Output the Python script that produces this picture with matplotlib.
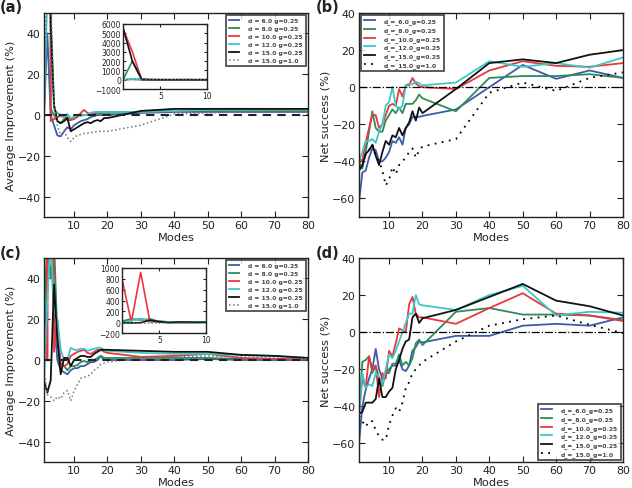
import matplotlib
matplotlib.use("Agg")
import matplotlib.pyplot as plt

# x positions (modes)
modes = list(range(1, 21)) + [30, 40, 50, 60, 70, 80]

labels_a = ["d = 6.0 g=0.25", "d = 8.0 g=0.25", "d = 10.0 g=0.25",
            "d = 12.0 g=0.25", "d = 15.0 g=0.25", "d = 15.0 g=1.0"]
labels_b = ["d_=_6.0_g=0.25", "d_=_8.0_g=0.25", "d_=_10.0_g=0.25",
            "d_=_12.0_g=0.25", "d_=_15.0_g=0.25", "d_=_15.0_g=1.0"]

colors = ["#3D5BA9", "#2E8B57", "#E8383D", "#3CC8C8", "#111111", "#777777"]

# (a) average improvement, first set
a_d6 = [0, 40, 0, -5, -10, -10.5, -8, -6, -7, -5, -4, -3, -2.5, -2, -1, -0.5, 0, 0, 0, 0, 1, 1.5, 1.5, 1.5, 1.5, 1.5]
a_d8 = [0, 2000, 3, 0, -3, -4, -2, -1, -2, -1, -0.5, 0, 0, 0, 0.5, 0.5, 1, 1, 1, 1, 1.5, 2, 2, 2, 2, 2]
a_d10 = [5500, 3000, -3, -2, -1, -0.5, -1, -2.5, -2.5, -2, -1, 1, 2.5, 1, 0.5, 1, 1, 1.5, 1.5, 1.5, 1.5, 2, 2.5, 2.5, 2.5, 2.5]
a_d12 = [0, 60, 50, 3, 1, 0, -1, 0.5, -1.5, -1, 0, -0.5, 0, 0, 1, 1.5, 1.5, 1.5, 1.5, 1.5, 1.5, 2, 2.5, 2.5, 2.5, 2.5]
a_d15 = [5600, 2000, 45, 5, -3, -4, -3, -1.5, -8, -7, -6, -5, -4, -3.5, -4, -3, -2.5, -3, -1.5, -1.5, 2, 3, 3, 3, 3, 3]
a_d15g1 = [0, 80, 60, 5, -5, -10, -8, -11, -13, -11, -10, -9.5, -9, -9, -8.5, -8.5, -8, -8, -8, -8, -5, 0.5, 1, 1.5, 2, 2]

# (b) net success, first set
b_d6 = [-62, -46, -45, -38, -33, -34, -40, -40, -38, -35, -29, -30, -27, -31, -22, -20, -16, -16, -16, -15.5, -12, 0, 12, 4.5, 9, 5]
b_d8 = [-40, -44, -35, -24, -13, -22, -24, -24, -18, -15, -12, -14, -11, -14, -9, -9, -9, -7, -4, -6, -13, 5, 6, 6, 7, 5]
b_d10 = [-38, -40, -30, -22, -15, -15, -22, -20, -15, -10, -9, -10, -1, -5, 1, 1, 5, 2, 0.5, 0, -1, 9, 14, 11.5, 11, 13]
b_d12 = [-40, -35, -29, -29, -28, -30, -24, -20, -10, -8, 0, -10, -12, -10, 1, 2, 1.5, 3, 2, 1, 2.5, 14, 11, 13, 10.5, 16]
b_d15 = [-45, -42, -36, -34, -31, -37, -42, -35, -29, -31, -26, -27, -22, -26, -22, -19, -13, -18, -11, -14, -1, 13, 15, 13, 17.5, 20]
b_d15g1 = [-44, -42, -36, -34, -31, -37, -40, -45, -53, -50, -43, -47, -42, -40, -38, -35, -33, -38, -34, -32, -28, -3, 2.5, -2, 5, 8]

# (c) average improvement, second set
c_d6 = [0, 40, 60, 20, 0, -5, -6, -7, -5, -4, -4, -3, -3, -2, -1, -1, 0, 2, 0, 0, 0, 0, 0.5, 0, 0, 0]
c_d8 = [20, 60, 40, 60, 10, -2, -3, -5, -3, -3, -2.5, -1, -0.5, -1, -0.5, 0, 1, 2, 1, 1, 1, 1, 1, 0.5, 0.5, 0.5]
c_d10 = [800, 0, 920, 4, 20, -2, -3, -2, 2, 3, 4, 4.5, 5, 3.5, 3, 4, 5, 5, 4, 3.5, 1.5, 2, 3, 1, 0.5, 0.5]
c_d12 = [-10, 30, 60, 25, 20, 5, 0, 0, 6, 5, 5, 5.5, 5.5, 4.5, 5, 5.5, 6, 6, 5, 4.5, 3.5, 3, 3, 2.5, 2, 1]
c_d15 = [-10, -16, -10, 37, 10, -7, 1, 1, -3, 0, 1, 2, 2, 1.5, 1.5, 3, 4, 5, 5, 5, 4.5, 4, 4, 2.5, 2, 1]
c_d15g1 = [-5, -17, -18, -20, -18, -19, -16, -15, -20, -15, -12, -9, -8.5, -8, -7, -5, -4, -2, -1.5, -1, 1, 1.5, 2, 1.5, 1, 0.5]

# (d) net success, second set
d_d6 = [-60, -40, -31, -25, -20, -9, -20, -25, -22, -20, -18, -18, -15, -20, -21, -18, -10, -8, -5, -5.5, -2, -2, 3.5, 4.5, 3.5, 8]
d_d8 = [-45, -16, -15, -13, -22, -18, -25, -29, -22, -22, -17, -17, -12, -18, -16, -18, -14, -6, -4, -7, 11, 13, 9.5, 9.5, 9, 6.5]
d_d10 = [-44, -25, -30, -13, -20, -18, -35, -22, -25, -10, -13, -6, 2, 1, 0, 15, 19, 10, 8, 8, 4.5, 13, 21, 10, 9, 6]
d_d12 = [-45, -22, -30, -28, -29, -22, -24, -28, -20, -12, -14, -10, -5, 0, 5, 10, 10, 20, 15, 14.5, 12, 20, 25, 9, 11, 10.5]
d_d15 = [-44, -43, -38, -38, -38, -36, -25, -35, -35, -32, -30, -20, -15, -9, -5, -4, 8, 10, 5, 7.5, 12, 19, 26, 17, 14, 9]
d_d15g1 = [-45, -48, -51, -48, -48, -53, -56, -58, -58, -50, -45, -41, -43, -38, -30, -27, -22, -20, -18, -16, -5, 3.5, 7, 9, 4, -0.5]

W, H = 632, 489
plt.rcParams["font.family"] = "DejaVu Sans"
fig = plt.figure(figsize=(W / 100, H / 100), dpi=100)

FS = 8.2
TFS = 7.9


def style_axes(ax, fs):
    ax.tick_params(direction="in", top=True, right=True, labelsize=fs, length=4,
                   width=0.8, colors="#222222", pad=2.5)
    for s in ax.spines.values():
        s.set_linewidth(1.0)
        s.set_color("#222222")


def add_legend(ax, loc):
    leg = ax.legend(loc=loc, prop={"size": 4.3, "weight": "bold"}, frameon=True,
                    fancybox=False, borderaxespad=0.35, handlelength=1.8,
                    handletextpad=1.5, labelspacing=0.45, borderpad=0.5)
    leg.get_frame().set_edgecolor("#222222")
    leg.get_frame().set_linewidth(1.3)
    for t in leg.get_texts():
        t.set_color("#444444")


def improvement_panel(rect, inset_rect, series, ylim_in, yticks_in, tag, tag_xy):
    ax = fig.add_axes(rect)
    for i, ys in enumerate(series):
        if i == 5:
            ax.plot(modes, ys, color=colors[5], ls=":", lw=1.1, label=labels_a[i])
        else:
            ax.plot(modes, ys, color=colors[i], lw=1.3, label=labels_a[i])
    ax.axhline(0, color="#222222", ls="--", lw=1.5, dashes=(4, 3))
    ax.set_xlim(1, 80)
    ax.set_ylim(-50, 50)
    ax.set_xticks(range(10, 81, 10))
    ax.set_yticks(range(-40, 41, 20))
    ax.set_yticklabels(["\u221240", "\u221220", "0", "20", "40"])
    ax.set_xlabel("Modes", fontsize=FS, labelpad=1, color="#222222")
    ax.set_ylabel("Average Improvement (%)", fontsize=FS, labelpad=1, color="#222222")
    style_axes(ax, TFS)
    add_legend(ax, "upper right")

    ins = fig.add_axes(inset_rect)
    for i, ys in enumerate(series):
        if i == 5:
            ins.plot(modes, ys, color=colors[5], ls=":", lw=1.0)
        else:
            ins.plot(modes, ys, color=colors[i], lw=1.2)
    ins.set_xlim(1, 10)
    ins.set_ylim(*ylim_in)
    ins.set_xticks([5, 10])
    ins.set_yticks(yticks_in)
    ins.set_yticklabels([str(t).replace("-", "\u2212") for t in yticks_in])
    style_axes(ins, 5.5)
    ins.tick_params(length=2.5, pad=1.5)
    fig.text(tag_xy[0] / W, 1 - tag_xy[1] / H, tag, fontsize=10.5, fontweight="bold",
             va="center", ha="left", color="#222222")
    return ax


def success_panel(rect, series, legloc, tag, tag_xy):
    ax = fig.add_axes(rect)
    for i, ys in enumerate(series):
        if i == 5:
            ax.plot(modes, ys, color="black", ls=(0, (1, 3)), lw=1.3, label=labels_b[i])
        else:
            ax.plot(modes, ys, color=colors[i], lw=1.3, label=labels_b[i])
    ax.axhline(0, color="black", ls="-.", lw=0.9)
    ax.set_xlim(1, 80)
    ax.set_ylim(-70, 40)
    ax.set_xticks(range(10, 81, 10))
    ax.set_yticks(range(-60, 41, 20))
    ax.set_yticklabels(["\u221260", "\u221240", "\u221220", "0", "20", "40"])
    ax.set_xlabel("Modes", fontsize=FS, labelpad=1, color="#222222")
    ax.set_ylabel("Net success (%)", fontsize=FS, labelpad=1, color="#222222")
    style_axes(ax, TFS)
    add_legend(ax, legloc)
    fig.text(tag_xy[0] / W, 1 - tag_xy[1] / H, tag, fontsize=10.5, fontweight="bold",
             va="center", ha="left", color="#222222")
    return ax


aw, ah = 264 / W, 204 / H
iw, ih = 84 / W, 65 / H

improvement_panel([44 / W, 1 - 218 / H, aw, ah], [123 / W, 1 - 90 / H, iw, ih],
                  [a_d6, a_d8, a_d10, a_d12, a_d15, a_d15g1],
                  (-1000, 6000), list(range(-1000, 6001, 1000)), "(a)", (0, 8))
success_panel([359 / W, 1 - 218 / H, aw, ah],
              [b_d6, b_d8, b_d10, b_d12, b_d15, b_d15g1], "upper left", "(b)", (316, 8))
improvement_panel([44 / W, 1 - 463 / H, aw, ah], [122 / W, 1 - 334 / H, iw, ih],
                  [c_d6, c_d8, c_d10, c_d12, c_d15, c_d15g1],
                  (-200, 1000), list(range(-200, 1001, 200)), "(c)", (0, 253))
success_panel([359 / W, 1 - 463 / H, aw, ah],
              [d_d6, d_d8, d_d10, d_d12, d_d15, d_d15g1], "lower right", "(d)", (316, 253))

fig.savefig("out.png", dpi=100)
